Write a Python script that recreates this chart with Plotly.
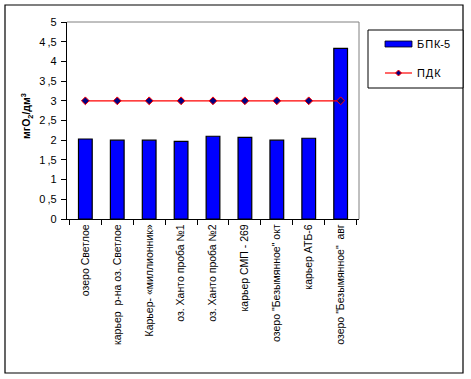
import plotly.graph_objects as go

categories = [
    "озеро Светлое",
    "карьер  р-на оз. Светлое",
    "Карьер- «миллионник»",
    "оз. Ханто проба №1",
    "оз. Ханто проба №2",
    "карьер СМП - 269",
    "озеро \"Безымянное\" окт",
    "карьер АТБ-6",
    "озеро \"Безымянное\"  авг",
]
bpk5 = [2.03, 2.0, 2.0, 1.97, 2.1, 2.07, 2.0, 2.05, 4.33]
pdk = [3, 3, 3, 3, 3, 3, 3, 3, 3]
y_ticks = [0, 0.5, 1, 1.5, 2, 2.5, 3, 3.5, 4, 4.5, 5]
y_labels = ["0", "0\u2009,5", "1", "1\u2009,5", "2", "2\u2009,5", "3",
            "3\u2009,5", "4", "4\u2009,5", "5"]

W, H = 471, 379
L, R, T, B = 67, 359, 22, 219
FONT = "Liberation Sans, Arial, sans-serif"


def fx(px):
    return (px - L) / (R - L)


def fy(py):
    return (B - py) / (B - T)


fig = go.Figure()
fig.add_trace(go.Bar(
    x=categories, y=bpk5, name="БПК-5",
    marker=dict(color="#0000FF", line=dict(color="black", width=1.2)),
    showlegend=False,
))
fig.add_trace(go.Scatter(
    x=categories, y=pdk, name="ПДК", mode="lines+markers",
    line=dict(color="#FF0000", width=1.2),
    marker=dict(symbol="diamond", size=6, color="#000080",
                line=dict(color="#FF0000", width=1)),
    showlegend=False,
))

shapes = [
    # outer frame
    dict(type="rect", xref="paper", yref="paper", x0=fx(5), x1=fx(463),
         y0=fy(373), y1=fy(5), line=dict(color="black", width=1.2)),
    # gray plot border top and right
    dict(type="line", xref="paper", yref="paper", x0=0, x1=1, y0=1, y1=1,
         line=dict(color="#808080", width=1)),
    dict(type="line", xref="paper", yref="paper", x0=1, x1=1, y0=0, y1=1,
         line=dict(color="#808080", width=1)),
    # legend box
    dict(type="rect", xref="paper", yref="paper", x0=fx(368), x1=fx(463),
         y0=fy(88), y1=fy(30), line=dict(color="black", width=1),
         fillcolor="white"),
    # bar swatch
    dict(type="rect", xref="paper", yref="paper", x0=fx(385), x1=fx(412),
         y0=fy(47), y1=fy(41), line=dict(color="black", width=0.8),
         fillcolor="#0000FF"),
    # line swatch
    dict(type="line", xref="paper", yref="paper", x0=fx(385), x1=fx(412),
         y0=fy(73), y1=fy(73), line=dict(color="#FF0000", width=1.2)),
    dict(type="path", xref="paper", yref="paper",
         path=f"M {fx(398.5)},{fy(70)} L {fx(401.5)},{fy(73)} L {fx(398.5)},{fy(76)} L {fx(395.5)},{fy(73)} Z",
         fillcolor="#000080", line=dict(color="#FF0000", width=1)),
]

annotations = [
    dict(xref="paper", yref="paper", x=fx(415), y=fy(44),
         text="Б\u200aП\u200aК-5",
         showarrow=False, xanchor="left", yanchor="middle",
         font=dict(family=FONT, size=11, color="black")),
    dict(xref="paper", yref="paper", x=fx(415), y=fy(73),
         text="П\u200aД\u200aК",
         showarrow=False, xanchor="left", yanchor="middle",
         font=dict(family=FONT, size=11, color="black")),
    dict(xref="paper", yref="paper", x=fx(27), y=fy(116),
         text="<b>мгО<sub>2</sub>/дм<sup>3</sup></b>", textangle=-90,
         showarrow=False, xanchor="center", yanchor="middle",
         font=dict(family=FONT, size=10.5, color="black")),
]

fig.update_layout(
    width=W, height=H,
    margin=dict(l=L, r=W - R, t=T, b=H - B),
    paper_bgcolor="white", plot_bgcolor="white",
    bargap=0.57,
    separators=", ",
    font=dict(family=FONT, size=11, color="black"),
    shapes=shapes, annotations=annotations,
    showlegend=False,
)
fig.update_xaxes(
    type="category", tickangle=-90, tickson="boundaries",
    ticks="outside", ticklen=5, tickcolor="black",
    showline=True, linecolor="black", linewidth=1.2,
    showgrid=False, zeroline=False,
    tickfont=dict(family=FONT, size=10.5, color="black"),
)
fig.update_yaxes(
    range=[0, 5], tickvals=y_ticks, ticktext=y_labels,
    ticks="outside", ticklen=5, tickcolor="black",
    showline=True, linecolor="black", linewidth=1.2,
    showgrid=False, zeroline=False,
    ticklabelstandoff=2,
    tickfont=dict(family=FONT, size=11, color="black"),
)

fig.write_html(
    "out.html",
    config={"displayModeBar": False},
    post_script="document.body.style.margin='0';document.body.style.overflow='hidden';",
)
